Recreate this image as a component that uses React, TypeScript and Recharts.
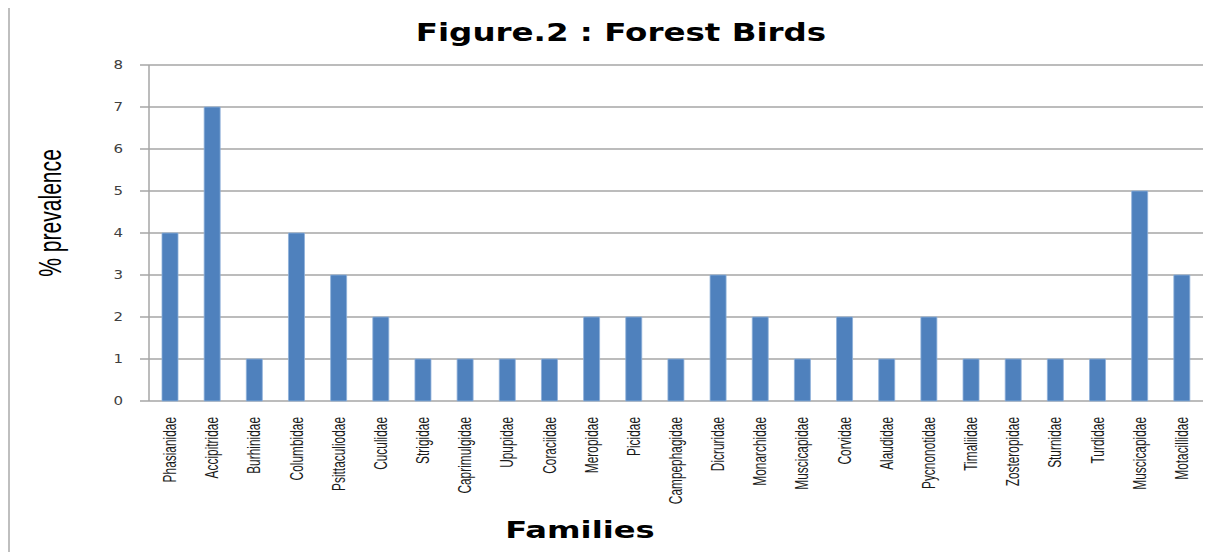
import { BarChart, Bar, XAxis, YAxis, CartesianGrid } from "recharts";

const families = [
  "Phasianidae",
  "Accipitridae",
  "Burhinidae",
  "Columbidae",
  "Psittaculiodae",
  "Cuculidae",
  "Strigidae",
  "Caprimulgidae",
  "Upupidae",
  "Coraciidae",
  "Meropidae",
  "Picidae",
  "Campephagidae",
  "Dicruridae",
  "Monarchidae",
  "Muscicapidae",
  "Corvidae",
  "Alaudidae",
  "Pycnonotidae",
  "Timaliidae",
  "Zosteropidae",
  "Sturnidae",
  "Turdidae",
  "Muscicapidae",
  "Motacillidae",
];

const prevalence = [4, 7, 1, 4, 3, 2, 1, 1, 1, 1, 2, 2, 1, 3, 2, 1, 2, 1, 2, 1, 1, 1, 1, 5, 3];

const yTicks = [0, 1, 2, 3, 4, 5, 6, 7, 8];

const data = families.map((name, i) => ({ name, value: prevalence[i] }));
const boundaryTicks = families.map((_, i) => i).concat(families.length);

const sans = "'Liberation Sans', Arial, sans-serif";
const bold = "'DejaVu Sans', Verdana, sans-serif";

// narrow, rotated category label (Excel's Calibri look)
function FamilyTick({ x, y, payload }: any) {
  return (
    <g transform={`translate(${x},${y}) rotate(-90)`}>
      <text
        transform="scale(0.66,1)"
        x={0}
        y={0}
        dy={6}
        textAnchor="end"
        fontFamily={sans}
        fontSize={18}
        fill="#1a1a1a"
      >
        {payload.value}
      </text>
    </g>
  );
}

function ValueTick({ x, y, payload }: any) {
  return (
    <g transform={`translate(${x},${y}) scale(1.25,1)`}>
      <text x={0} y={0} dy={4} textAnchor="end" fontFamily={bold} fontSize={12} fill="#404040">
        {payload.value}
      </text>
    </g>
  );
}

export default function App() {
  return (
    <div
      style={{
        position: "relative",
        width: 1220,
        height: 546,
        marginTop: -2,
        borderTop: "2px solid #bfbfbf",
        borderLeft: "2px solid #bfbfbf",
        boxSizing: "border-box",
        background: "#fff",
      }}
    >
      <div
        style={{
          position: "absolute",
          left: 0,
          width: 1222,
          top: 10,
          textAlign: "center",
          fontFamily: bold,
          fontWeight: "bold",
          fontSize: 25,
          transform: "scaleX(1.3)",
          color: "#000",
          whiteSpace: "nowrap",
        }}
      >
        Figure.2 : Forest Birds
      </div>
      <div
        style={{
          position: "absolute",
          left: 41 - 100,
          top: 205 - 17,
          width: 200,
          textAlign: "center",
          transform: "rotate(-90deg) scaleX(0.68)",
          fontFamily: sans,
          fontSize: 31,
          lineHeight: "34px",
          color: "#000",
          whiteSpace: "nowrap",
        }}
      >
        % prevalence
      </div>
      <div
        style={{
          position: "absolute",
          left: 470,
          width: 200,
          top: 509,
          textAlign: "center",
          fontFamily: bold,
          fontWeight: "bold",
          fontSize: 23,
          transform: "scaleX(1.4)",
          color: "#000",
          whiteSpace: "nowrap",
        }}
      >
        Families
      </div>
      <BarChart
        width={1218}
        height={544}
        data={data}
        barSize={16}
        margin={{ top: 57, right: 25, left: 77, bottom: 28 }}
        style={{ position: "absolute", left: 0, top: 0 }}
      >
        <CartesianGrid vertical={false} stroke="#a6a6a6" strokeWidth={1.5} />
        <XAxis
          xAxisId="bounds"
          type="number"
          dataKey={() => 0}
          domain={[0, families.length]}
          ticks={boundaryTicks}
          interval={0}
          height={0}
          axisLine={{ stroke: "#a6a6a6", strokeWidth: 1.5 }}
          tickLine={{ stroke: "#a6a6a6", strokeWidth: 1.5 }}
          tickSize={5}
          tick={false}
        />
        <XAxis
          dataKey="name"
          interval={0}
          height={123}
          axisLine={false}
          tickLine={false}
          tickSize={6}
          tickMargin={10}
          tick={<FamilyTick />}
        />
        <YAxis
          width={62}
          domain={[0, 8]}
          ticks={yTicks}
          interval={0}
          axisLine={{ stroke: "#a6a6a6", strokeWidth: 1.5 }}
          tickLine={{ stroke: "#a6a6a6", strokeWidth: 1.5 }}
          tickSize={9}
          tickMargin={17}
          tick={<ValueTick />}
        />
        <Bar
          dataKey="value"
          fill="#4f81bd"
          stroke="#8eb0d9"
          strokeWidth={0.8}
          isAnimationActive={false}
        />
      </BarChart>
    </div>
  );
}
